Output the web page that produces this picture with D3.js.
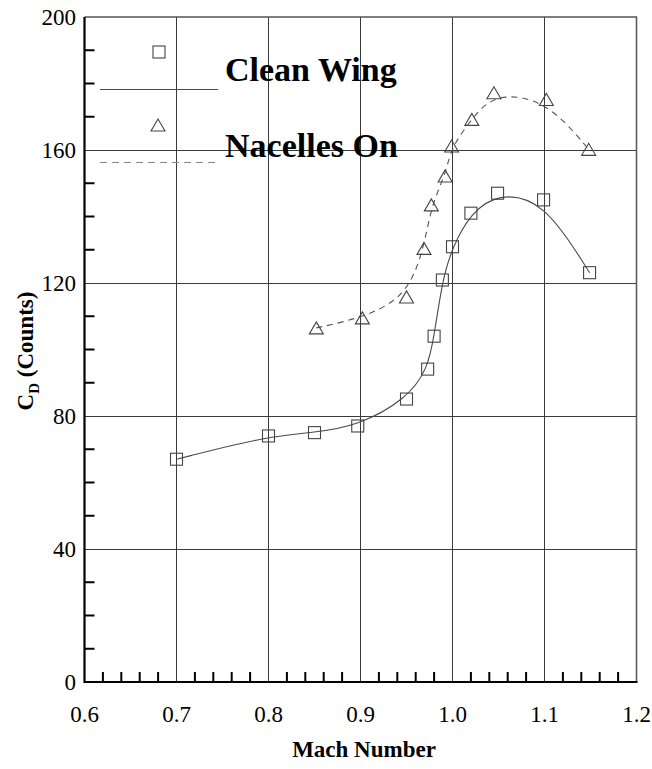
<!DOCTYPE html>
<html>
<head>
<meta charset="utf-8">
<script src="https://cdn.jsdelivr.net/npm/d3@7"></script>
<style>
  body { margin: 0; background: #fff; }
</style>
</head>
<body>
<svg id="chart" width="652" height="769"></svg>
<script>
// Drag coefficient vs Mach number, clean wing and with nacelles
const cleanMach = [0.700, 0.800, 0.850, 0.897, 0.950, 0.973, 0.980, 0.989, 1.000, 1.020, 1.049, 1.099, 1.149];
const cleanCd   = [67.0, 74.0, 75.0, 77.0, 85.1, 94.1, 104.0, 120.9, 130.9, 141.0, 147.0, 145.0, 123.1];

const nacMach = [0.852, 0.902, 0.950, 0.969, 0.977, 0.992, 0.999, 1.021, 1.045, 1.102, 1.148];
const nacCd   = [106.5, 109.5, 115.8, 130.4, 143.5, 152.2, 161.2, 169.2, 177.2, 175.2, 160.2];

const seriesNames = ["Clean Wing", "Nacelles On"];
const xTickLabels = ["0.6", "0.7", "0.8", "0.9", "1.0", "1.1", "1.2"];
const yTickLabels = ["0", "40", "80", "120", "160", "200"];
const xLabel = "Mach Number";

const FONT = "'Liberation Serif', 'Times New Roman', Times, serif";

const svg = d3.select("#chart");
const L = 84.5, R = 636.5, T = 17, B = 682;

const x = d3.scaleLinear().domain([0.6, 1.2]).range([L, R]);
const y = d3.scaleLinear().domain([0, 200]).range([B, T]);

const xMajor = xTickLabels.map(Number);
const yMajor = yTickLabels.map(Number);
const xMinor = d3.range(0.62, 1.2, 0.02).filter(v => !xMajor.some(m => Math.abs(m - v) < 1e-6));
const yMinor = d3.range(10, 200, 10).filter(v => v % 40 !== 0);

// grid lines
const grid = svg.append("g").attr("stroke", "#3a3a3a").attr("stroke-width", 1).attr("shape-rendering", "crispEdges");
grid.selectAll("line.v").data(xMajor.slice(1, -1)).join("line")
  .attr("x1", d => x(d)).attr("x2", d => x(d)).attr("y1", T).attr("y2", B);
grid.selectAll("line.h").data(yMajor.slice(1, -1)).join("line")
  .attr("class", "h")
  .attr("x1", L).attr("x2", R).attr("y1", d => y(d)).attr("y2", d => y(d));

// top and right frame
svg.append("path")
  .attr("d", `M${L},${T}H${R}V${B}`)
  .attr("fill", "none").attr("stroke", "#555").attr("stroke-width", 1.5);

// minor ticks (pointing inward)
const ticks = svg.append("g").attr("stroke", "#000").attr("stroke-width", 2);
ticks.selectAll("line.xm").data(xMinor).join("line")
  .attr("x1", d => x(d)).attr("x2", d => x(d)).attr("y1", B).attr("y2", B - 10);
ticks.selectAll("line.ym").data(yMinor).join("line")
  .attr("class", "ym")
  .attr("x1", L).attr("x2", L + 10).attr("y1", d => y(d)).attr("y2", d => y(d));

// main axes
svg.append("path")
  .attr("d", `M${L},${T}V${B}H${R + 1}`)
  .attr("fill", "none").attr("stroke", "#000").attr("stroke-width", 2.2);

// tick labels
svg.append("g").selectAll("text").data(xTickLabels).join("text")
  .attr("font-family", FONT)
  .attr("x", d => x(+d)).attr("y", 722)
  .attr("text-anchor", "middle").attr("font-size", 23)
  .text(d => d);
svg.append("g").selectAll("text").data(yTickLabels).join("text")
  .attr("font-family", FONT)
  .attr("x", 76).attr("y", d => y(+d) + 8)
  .attr("text-anchor", "end").attr("font-size", 23)
  .text(d => d);

// axis titles
svg.append("text")
  .attr("font-family", FONT)
  .attr("x", 364).attr("y", 757)
  .attr("text-anchor", "middle").attr("font-size", 23).attr("font-weight", "bold")
  .text(xLabel);

const yt = svg.append("text")
  .attr("font-family", FONT)
  .attr("transform", `translate(33,351) rotate(-90)`)
  .attr("text-anchor", "middle").attr("font-size", 23).attr("font-weight", "bold");
yt.append("tspan").text("C");
yt.append("tspan").attr("dy", 6).attr("font-size", 15).text("D");
yt.append("tspan").attr("dy", -6).text(" (Counts)");

// fitted curves
const line = d3.line().x(d => x(d[0])).y(d => y(d[1])).curve(d3.curveBasis);
const cleanPts = d3.zip(cleanMach, cleanCd);
const nacPts = d3.zip(nacMach, nacCd);

svg.append("path").datum(cleanPts)
  .attr("d", line).attr("fill", "none").attr("stroke", "#4a4a4a").attr("stroke-width", 1.1);
svg.append("path").datum(nacPts)
  .attr("d", line).attr("fill", "none").attr("stroke", "#555").attr("stroke-width", 1.1)
  .attr("stroke-dasharray", "6,5");

// markers
const sq = 12;
const triPath = (cx, cy) => `M${cx - 7},${cy + 6}L${cx + 7},${cy + 6}L${cx},${cy - 6}Z`;

svg.append("g").selectAll("rect").data(cleanPts).join("rect")
  .attr("x", d => x(d[0]) - sq / 2).attr("y", d => y(d[1]) - sq / 2)
  .attr("width", sq).attr("height", sq)
  .attr("fill", "none").attr("stroke", "#444").attr("stroke-width", 1.1);

svg.append("g").selectAll("path").data(nacPts).join("path")
  .attr("d", d => triPath(x(d[0]), y(d[1])))
  .attr("fill", "none").attr("stroke", "#444").attr("stroke-width", 1.1);

// legend
const lg = svg.append("g");
lg.append("rect").attr("x", 159 - sq / 2).attr("y", 52 - sq / 2).attr("width", sq).attr("height", sq)
  .attr("fill", "none").attr("stroke", "#444").attr("stroke-width", 1.1);
lg.append("line").attr("x1", 100).attr("x2", 218).attr("y1", 89.5).attr("y2", 89.5)
  .attr("stroke", "#4a4a4a").attr("stroke-width", 1.1);
lg.append("path").attr("d", triPath(158, 125))
  .attr("fill", "none").attr("stroke", "#444").attr("stroke-width", 1.1);
lg.append("line").attr("x1", 100).attr("x2", 218).attr("y1", 162.5).attr("y2", 162.5)
  .attr("stroke", "#888").attr("stroke-width", 1.2).attr("stroke-dasharray", "7,5");
lg.selectAll("text.name").data(seriesNames).join("text")
  .attr("font-family", FONT)
  .attr("x", 225).attr("y", (d, i) => i === 0 ? 81 : 157)
  .attr("font-size", 34).attr("font-weight", "bold")
  .text(d => d);
</script>
</body>
</html>
